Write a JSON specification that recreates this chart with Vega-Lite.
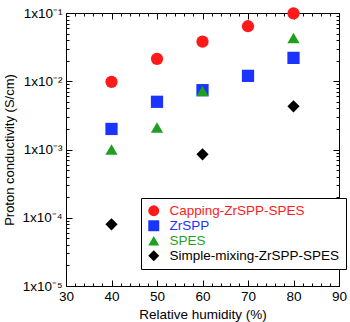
{
  "$schema": "https://vega.github.io/schema/vega-lite/v6.json",
  "width": 273,
  "height": 273,
  "autosize": "none",
  "padding": {"left": 66, "top": 13, "right": 11, "bottom": 36},
  "background": "white",
  "config": {
    "view": {"stroke": "black", "strokeWidth": 1},
    "font": "Liberation Sans",
    "axis": {"domain": false, "grid": false, "tickColor": "black", "labelColor": "black", "titleColor": "black", "labelFont": "Liberation Sans", "titleFont": "Liberation Sans", "titleFontWeight": "normal"}
  },
  "data": {"values": [
    {"rh": 40, "s": 0.0098, "series": "Capping-ZrSPP-SPES"},
    {"rh": 50, "s": 0.0213, "series": "Capping-ZrSPP-SPES"},
    {"rh": 60, "s": 0.038, "series": "Capping-ZrSPP-SPES"},
    {"rh": 70, "s": 0.064, "series": "Capping-ZrSPP-SPES"},
    {"rh": 80, "s": 0.099, "series": "Capping-ZrSPP-SPES"},
    {"rh": 40, "s": 0.0020, "series": "ZrSPP"},
    {"rh": 50, "s": 0.0050, "series": "ZrSPP"},
    {"rh": 60, "s": 0.0074, "series": "ZrSPP"},
    {"rh": 70, "s": 0.012, "series": "ZrSPP"},
    {"rh": 80, "s": 0.022, "series": "ZrSPP"},
    {"rh": 40, "s": 0.0010, "series": "SPES"},
    {"rh": 50, "s": 0.0021, "series": "SPES"},
    {"rh": 60, "s": 0.0072, "series": "SPES"},
    {"rh": 80, "s": 0.043, "series": "SPES"},
    {"rh": 40, "s": 0.00008, "series": "Simple-mixing-ZrSPP-SPES"},
    {"rh": 60, "s": 0.00085, "series": "Simple-mixing-ZrSPP-SPES"},
    {"rh": 80, "s": 0.0043, "series": "Simple-mixing-ZrSPP-SPES"}
  ]},
  "resolve": {"axis": {"x": "independent", "y": "independent"}},
  "layer": [
    {
      "mark": {"type": "point", "filled": true, "opacity": 1, "size": 150},
      "encoding": {
        "x": {"field": "rh", "type": "quantitative", "scale": {"domain": [30, 90], "nice": false},
          "axis": {"orient": "bottom", "title": "Relative humidity (%)", "titleFontSize": 13.5, "labelFontSize": 13.5, "titlePadding": 2,
            "values": [30,32,34,36,38,40,42,44,46,48,50,52,54,56,58,60,62,64,66,68,70,72,74,76,78,80,82,84,86,88,90],
            "labelExpr": "datum.value % 10 == 0 ? datum.label : ''",
            "tickSize": {"condition": {"test": "datum.value % 10 == 0", "value": -6}, "value": -3},
            "labelPadding": 9, "labelFlush": false, "labelOverlap": false}},
        "y": {"field": "s", "type": "quantitative", "scale": {"type": "log", "domain": [0.00001, 0.1], "nice": false},
          "axis": {"orient": "left", "title": "Proton conductivity (S/cm)", "titleFontSize": 13, "labelFontSize": 13.5, "titlePadding": 5,
            "values": [0.00001,0.00002,0.00003,0.00004,0.00005,0.00006,0.00007,0.00008,0.00009,0.0001,0.0002,0.0003,0.0004,0.0005,0.0006,0.0007,0.0008,0.0009,0.001,0.002,0.003,0.004,0.005,0.006,0.007,0.008,0.009,0.01,0.02,0.03,0.04,0.05,0.06,0.07,0.08,0.09,0.1],
            "labelExpr": "abs(log(datum.value)/LN10 - round(log(datum.value)/LN10)) > 0.01 ? '' : (round(log(datum.value)/LN10) == -1 ? '1x10⁻¹' : round(log(datum.value)/LN10) == -2 ? '1x10⁻²' : round(log(datum.value)/LN10) == -3 ? '1x10⁻³' : round(log(datum.value)/LN10) == -4 ? '1x10⁻⁴' : '1x10⁻⁵')",
            "tickSize": {"condition": {"test": "abs(log(datum.value)/LN10 - round(log(datum.value)/LN10)) < 0.01", "value": -6}, "value": -3},
            "labelPadding": 10, "labelOverlap": false, "labelFlush": false}},
        "color": {"field": "series", "type": "nominal",
          "scale": {"domain": ["Capping-ZrSPP-SPES", "ZrSPP", "SPES", "Simple-mixing-ZrSPP-SPES"], "range": ["#ff1a1a", "#1a33ff", "#1f9f1f", "#000000"]},
          "legend": {"title": null, "orient": "none", "legendX": 75, "legendY": 185, "padding": 6, "strokeColor": "black", "fillColor": "white",
            "labelFontSize": 13.5, "labelFont": "Liberation Sans", "labelLimit": 0, "symbolSize": 120, "rowPadding": 0, "labelOffset": 9, "symbolOpacity": 1,
            "encode": {"labels": {"update": {"fill": {"scale": "color", "field": "value"}}}}}},
        "shape": {"field": "series", "type": "nominal",
          "scale": {"domain": ["Capping-ZrSPP-SPES", "ZrSPP", "SPES", "Simple-mixing-ZrSPP-SPES"], "range": ["circle", "square", "triangle-up", "diamond"]},
          "legend": {"title": null, "orient": "none", "legendX": 75, "legendY": 185}}
      }
    },
    {
      "mark": {"type": "point", "opacity": 0},
      "encoding": {
        "x": {"field": "rh", "type": "quantitative", "scale": {"domain": [30, 90], "nice": false},
          "axis": {"orient": "top", "title": null, "labels": false,
            "values": [30,32,34,36,38,40,42,44,46,48,50,52,54,56,58,60,62,64,66,68,70,72,74,76,78,80,82,84,86,88,90],
            "tickSize": {"condition": {"test": "datum.value % 10 == 0", "value": -6}, "value": -3}}},
        "y": {"field": "s", "type": "quantitative", "scale": {"type": "log", "domain": [0.00001, 0.1], "nice": false},
          "axis": {"orient": "right", "title": null, "labels": false,
            "values": [0.00001,0.00002,0.00003,0.00004,0.00005,0.00006,0.00007,0.00008,0.00009,0.0001,0.0002,0.0003,0.0004,0.0005,0.0006,0.0007,0.0008,0.0009,0.001,0.002,0.003,0.004,0.005,0.006,0.007,0.008,0.009,0.01,0.02,0.03,0.04,0.05,0.06,0.07,0.08,0.09,0.1],
            "tickSize": {"condition": {"test": "abs(log(datum.value)/LN10 - round(log(datum.value)/LN10)) < 0.01", "value": -6}, "value": -3}}}
      }
    }
  ]
}
